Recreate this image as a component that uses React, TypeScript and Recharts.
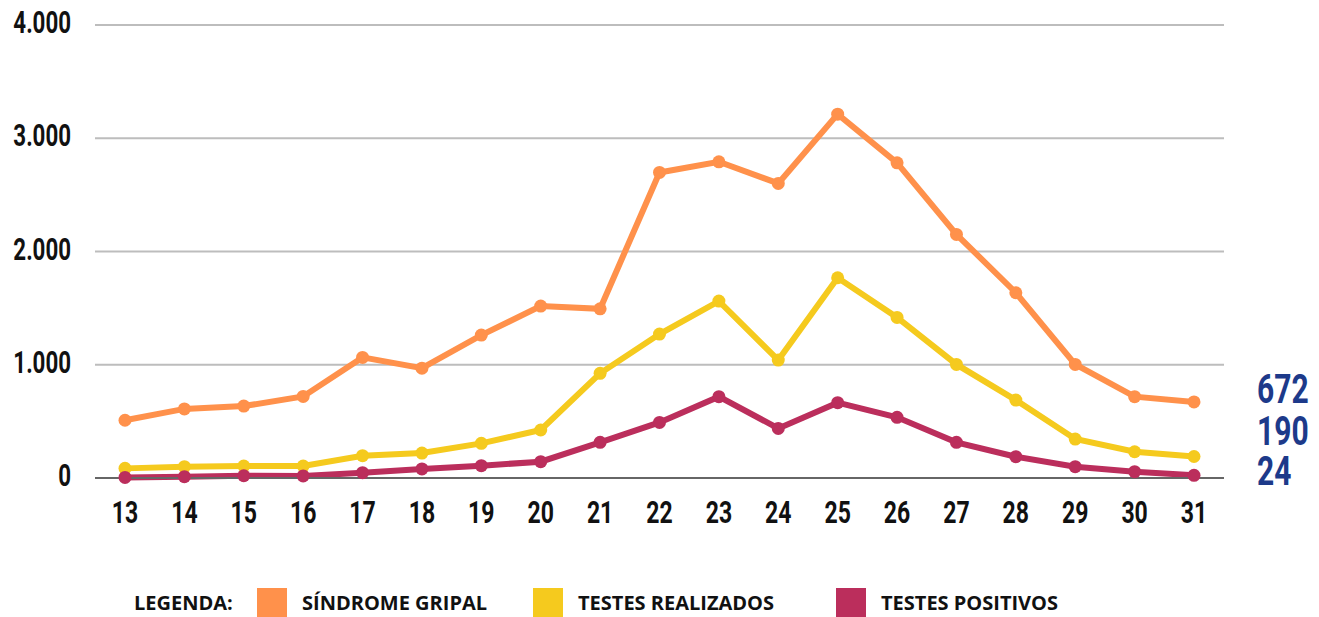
import React from "react";
import { LineChart, Line, XAxis, YAxis, CartesianGrid, LabelList } from "recharts";

const weeks = ["13", "14", "15", "16", "17", "18", "19", "20", "21", "22", "23", "24", "25", "26", "27", "28", "29", "30", "31"];
const sindromeGripal = [510, 610, 635, 720, 1065, 970, 1262, 1518, 1494, 2698, 2792, 2601, 3213, 2783, 2151, 1636, 1003, 718, 672];
const testesRealizados = [85, 100, 106, 106, 197, 220, 306, 424, 924, 1271, 1562, 1041, 1768, 1418, 1003, 688, 344, 232, 190];
const testesPositivos = [5, 12, 20, 18, 47, 80, 109, 144, 315, 491, 718, 438, 665, 536, 315, 188, 100, 56, 24];
const yTicks = [0, 1000, 2000, 3000, 4000];

const series = [
  { key: "sindrome", name: "SÍNDROME GRIPAL", color: "#FF914B", values: sindromeGripal, labelDy: 1 },
  { key: "realizados", name: "TESTES REALIZADOS", color: "#F5CA1E", values: testesRealizados, labelDy: -11 },
  { key: "positivos", name: "TESTES POSITIVOS", color: "#BB2E5C", values: testesPositivos, labelDy: 10 },
];

const data = weeks.map((w, i) => ({
  week: w,
  sindrome: sindromeGripal[i],
  realizados: testesRealizados[i],
  positivos: testesPositivos[i],
}));

const NUM_FONT = "Roboto, 'Liberation Sans', sans-serif";
const SQUEEZE = 0.72;

const fmt = (v: number) => String(v).replace(/\B(?=(\d{3})+(?!\d))/g, ".");

function YTick({ x, y, payload }: any) {
  return (
    <g transform={`translate(${x},${y + 8}) scale(${SQUEEZE},1)`}>
      <text x={0} y={0} textAnchor="end" fontFamily={NUM_FONT} fontWeight={700} fontSize={31} fill="#111">
        {fmt(payload.value)}
      </text>
    </g>
  );
}

function XTick({ x, y, payload }: any) {
  return (
    <g transform={`translate(${x},${y + 23}) scale(${SQUEEZE},1)`}>
      <text x={0} y={0} textAnchor="middle" fontFamily={NUM_FONT} fontWeight={700} fontSize={32} fill="#111">
        {payload.value}
      </text>
    </g>
  );
}

function endLabel(dy: number) {
  return (props: any) => {
    const { x, y, value, index } = props;
    if (index !== weeks.length - 1) return null;
    return (
      <g transform={`translate(${x + 63},${y + dy}) scale(0.75,1)`}>
        <text x={0} y={0} textAnchor="start" fontFamily={NUM_FONT} fontWeight={700} fontSize={40} fill="#1D3A8A">
          {value}
        </text>
      </g>
    );
  };
}

function ChartLegend() {
  const itemLeft = [257, 533, 836];
  const textStyle: React.CSSProperties = {
    fontFamily: "'Open Sans', sans-serif",
    fontWeight: 700,
    fontSize: 20,
    color: "#111",
    lineHeight: "30px",
    whiteSpace: "nowrap",
  };
  return (
    <div style={{ position: "absolute", left: 0, top: 588, width: 1319, height: 30 }}>
      <div style={{ ...textStyle, position: "absolute", left: 134, top: 0 }}>LEGENDA:</div>
      {series.map((s, i) => (
        <div key={s.key} style={{ position: "absolute", left: itemLeft[i], top: 0, display: "flex", alignItems: "center" }}>
          <div style={{ width: 30, height: 30, background: s.color, marginRight: 15 }} />
          <div style={textStyle}>{s.name}</div>
        </div>
      ))}
    </div>
  );
}

export default function App() {
  return (
    <div style={{ position: "absolute", left: 0, top: 0, width: 1319, height: 617, background: "#fff", overflow: "hidden" }}>
      <LineChart width={1319} height={617} data={data} margin={{ top: 25, right: 95, bottom: 79, left: 0 }}>
        <CartesianGrid horizontal vertical={false} stroke="#BDBDBD" strokeWidth={2} />
        <XAxis
          dataKey="week"
          padding={{ left: 30, right: 30 }}
          height={60}
          tickSize={0}
          tickMargin={22}
          tickLine={false}
          axisLine={{ stroke: "#666", strokeWidth: 2 }}
          tick={<XTick />}
          interval={0}
        />
        <YAxis
          width={95}
          domain={[0, 4000]}
          ticks={yTicks}
          tickSize={0}
          tickMargin={24}
          tickLine={false}
          axisLine={false}
          tick={<YTick />}
        />
        {series.map((s) => (
          <Line
            key={s.key}
            type="linear"
            dataKey={s.key}
            stroke={s.color}
            strokeWidth={6}
            dot={{ r: 6.5, fill: s.color, stroke: s.color, strokeWidth: 0 }}
            isAnimationActive={false}
          >
            <LabelList dataKey={s.key} content={endLabel(s.labelDy)} />
          </Line>
        ))}
      </LineChart>
      <ChartLegend />
    </div>
  );
}
